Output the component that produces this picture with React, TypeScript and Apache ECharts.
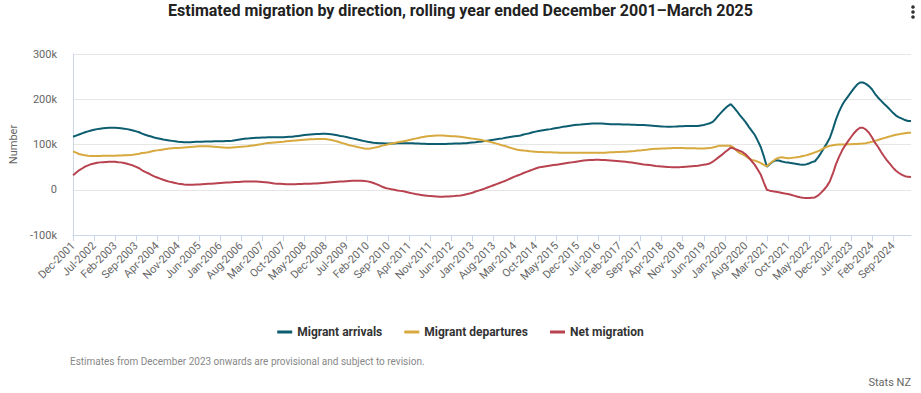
import React, { useEffect, useRef } from "react";
import * as echarts from "echarts";

const MONTHS = ["Jan", "Feb", "Mar", "Apr", "May", "Jun", "Jul", "Aug", "Sep", "Oct", "Nov", "Dec"];
const FIRST_YEAR = 2001;
const FIRST_MONTH = 11; // December
const MONTH_COUNT = 280; // Dec-2001 .. Mar-2025

const categories: string[] = [];
for (let k = 0; k < MONTH_COUNT; k++) {
  const m = (FIRST_MONTH + k) % 12;
  const y = FIRST_YEAR + Math.floor((FIRST_MONTH + k) / 12);
  categories.push(`${MONTHS[m]}-${y}`);
}

// values in thousands
const migrantArrivals = [117,
  119.5,122,124.5,127,129,131,132.5,134,135,136,136.5,137,
  137,137,136.5,136,135,134,132.5,131,129,127,124,121.5,
  119.5,117.5,115.5,114,112.5,111,110,109,108,107,106,105.5,
  105,105,105,105.5,106,106,106,106.5,106.5,106.5,107,107,
  107,107,107.5,108,108.5,109.5,110.5,111.5,112.5,113,114,114.5,
  115,115,115.5,115.5,116,116,116,116,116,116,116.5,117,
  117,118,119,120,121,121.5,122,122.5,123,123,123.5,123.5,
  123,122.5,121.5,120.5,119,118,116.5,115,113.5,112,110.5,109,
  107.5,106,105,104,103.5,103,102.5,102,102,102,102,102.5,
  102.5,103,103,103,102.5,102,102,101.5,101.5,101,101,101,
  101,101,101,101,101.5,101.5,102,102,102,102.5,103,104,
  104.5,105,106,106.5,107.5,108.5,109.5,110.5,111.5,112.5,113.5,115,
  116,117,118,119,120,122,123.5,125,127,128.5,130,131,
  132,133,134,135.5,136.5,137.5,139,140,141,142,143,143.5,
  144,145,145.5,146,146.5,146.5,146.5,146.5,146,145.5,145,145,
  144.5,144.5,144,144,144,143.5,143.5,143,143,143,142.5,142,
  141.5,141,140.5,140,139.5,139,139,139.5,140,140.5,140.5,141,
  141,141,141,141,142,143,145,147,150,157,165,172,
  179,185,189,182,174,165,157,149,139,130,121,108,
  94,74,51,57,62,65,64.5,62.5,61,60,59,58,
  57,56,55.5,56,58,61,63,71,81,92,103,115,
  134,155,172,186,197,206,215,224,232,237,237,234,
  229,222,212,204,197,190,184,177,170,164,160,157,
  154,152,152];

const migrantDepartures = [85,
  82,79,77.5,76,75,74.5,74.5,74.5,74.5,75,75,75,
  75,75,75.5,75.5,76,76.5,77,77.5,78.5,79.5,81,82,
  83,84.5,86,87,88,89,90,91,91.5,92,92.5,93,
  93.5,94,94.5,95,95.5,96,96,96,96,95.5,95,94.5,
  94,93.5,93,93,93.5,94,94.5,95,95.5,96,97,98,
  99,100,101,102.5,103.5,104,104.5,105,105.5,106,107,108,
  108.5,109,109.5,110,110.5,111,111.5,111.5,112,112,112,112,
  111,110,108.5,106.5,104.5,102.5,100.5,98.5,97,95.5,94,92.5,
  91,90.5,91,92.5,94,95.5,97.5,99,100.5,102,103.5,105,
  106,107,108.5,110,111.5,113,114.5,116,117,118,119,119.5,
  120,120,120,119.5,119,118.5,118,117.5,117,116,115,114,
  113,112,111,110,108.5,107,105.5,104,102,100,98,96.5,
  94,92,90,88.5,87.5,86.5,86,85,84.5,84,83.5,83.5,
  83,83,83,82.5,82.5,82,82,82,82,82,81.5,81.5,
  81.5,81.5,81.5,81.5,81.5,81.5,81.5,82,82,82.5,83,83,
  83.5,83.5,84,84,84.5,85,85.5,86.5,87,88,88.5,89.5,
  90,90.5,90.5,91,91,91.5,91.5,92,92,92,92,91.5,
  91.5,91.5,91.5,91,91,91,91.5,92,93.5,95,97,97.5,
  97.5,97.5,97,93,86,81,78,74,69,66,64.5,62,
  59,55,52,58,63,68,71,72,70.5,69.5,70,71,
  72,73,74.5,76,78,80,82.5,85,88,92,95,97,
  98.5,99.5,100,100,100,100.5,100.5,101,101,101.5,102,103,
  104.5,106,108,110,112,114,116,118,120,121.5,122.5,124,
  125,126,126];

const netMigration = [32,
  37.5,43,47,51,54,56.5,58,59.5,60.5,61,61.5,62,
  62,62,61,60.5,59,57.5,55.5,53.5,50.5,47.5,43,39.5,
  36.5,33,29.5,27,24.5,22,20,18,16.5,15,13.5,12.5,
  11.5,11,11,11,11.5,11.5,12,12.5,13,13.5,14,14.5,
  15,15.5,16,16,16.5,17,17,17.5,18,18,18,18,
  18,17.5,17,16.5,16,15,14,13.5,13,12.5,12,12,
  12,12,12.5,12.5,13,13,13.5,14,14,14.5,15,15.5,
  16,16.5,17,17.5,18,18.5,19,19.5,20,20,20,20,
  19.5,18.5,17,15,12.5,9.5,6.5,4,2.5,1,0,-1.5,
  -2.5,-3.5,-5,-6.5,-8,-9.5,-10.5,-11.5,-12.5,-13.5,-14,-14.5,
  -15,-15.5,-15.5,-15,-15,-14.5,-14,-13,-12.5,-11.5,-10,-8.5,
  -6.5,-4,-2,0,2.5,5,7.5,10,12.5,15,17.5,20,
  23,26,29,31.5,34,37,39.5,42,44.5,47,49,50.5,
  51.5,52.5,53.5,54.5,55.5,56.5,57.5,58.5,59.5,60.5,61.5,62.5,
  63.5,64.5,65,65.5,66,66.5,66.5,66,65.5,65,64.5,64,
  63.5,63,62.5,62,61,60,59,58,57,56,55.5,54.5,
  53.5,52.5,52,51.5,51,50.5,50,50,50,50,50.5,51,
  51.5,52,52.5,53,54,55.5,56.5,58,62,67,72,77,
  83,88,93,91,88.5,86,83,78,71,63,55,44,
  33,16,0,-2,-3.5,-4.5,-5.5,-7,-8.5,-9.5,-11,-13,
  -15,-16.5,-17.5,-18,-18,-17.5,-17,-13,-7,0,8,19,
  36,56,72,86,97,107,116,125,132,137,137,133,
  126,116,104,95,84,74,65,57,49,42,37,33,
  30,28.5,28];

const SERIES_NAMES = ["Migrant arrivals", "Migrant departures", "Net migration"];
const SERIES_COLORS = ["#0c5d6f", "#d8a93f", "#b8424f"];
const Y_MIN = -100;
const Y_MAX = 300;
const Y_STEP = 100;

const TITLE = "Estimated migration by direction, rolling year ended December 2001\u2013March 2025";
const FOOTNOTE = "Estimates from December 2023 onwards are provisional and subject to revision.";
const CREDIT = "Stats NZ";

const FONT = "Roboto, 'Noto Sans', sans-serif";

export default function App() {
  const ref = useRef<HTMLDivElement>(null);

  useEffect(() => {
    if (!ref.current) return;
    const chart = echarts.init(ref.current, null, { renderer: "svg" });
    const seriesData = [migrantArrivals, migrantDepartures, netMigration];
    chart.setOption({
      animation: false,
      textStyle: { fontFamily: FONT },
      title: {
        text: TITLE,
        left: "center",
        top: -3,
        textStyle: { fontSize: 16, fontWeight: "bold", color: "#222", fontFamily: FONT },
      },
      grid: { left: 70, right: 10, top: 54, bottom: 158, containLabel: false },
      legend: {
        data: SERIES_NAMES,
        top: 321,
        left: "center",
        icon: "rect",
        itemWidth: 15,
        itemHeight: 3,
        itemGap: 22,
        textStyle: { fontSize: 12, fontWeight: "bold", color: "#333", fontFamily: FONT },
      },
      xAxis: {
        type: "category",
        data: categories,
        boundaryGap: false,
        axisLine: { onZero: false, lineStyle: { color: "#ccd6eb", width: 1 } },
        axisTick: { interval: 6, length: 6, lineStyle: { color: "#ccd6eb" } },
        axisLabel: {
          interval: 6,
          rotate: 45,
          fontSize: 11,
          color: "#666",
          margin: 9,
          fontFamily: FONT,
        },
        splitLine: { show: false },
      },
      yAxis: {
        type: "value",
        min: Y_MIN,
        max: Y_MAX,
        interval: Y_STEP,
        name: "Number",
        nameLocation: "middle",
        nameRotate: 90,
        nameGap: 50,
        nameTextStyle: { fontSize: 11, color: "#666", fontFamily: FONT },
        axisLine: { show: true, lineStyle: { color: "#ccd6eb" } },
        axisTick: { show: false },
        axisLabel: {
          fontSize: 11,
          color: "#666",
          margin: 16,
          fontFamily: FONT,
          formatter: (v: number) => (v === 0 ? "0" : `${v}k`),
        },
        splitLine: { lineStyle: { color: "#e6e6e6" } },
      },
      series: SERIES_NAMES.map((name, i) => ({
        name,
        type: "line",
        data: seriesData[i],
        showSymbol: false,
        symbol: "none",
        lineStyle: { width: 2, color: SERIES_COLORS[i] },
        itemStyle: { color: SERIES_COLORS[i] },
        smooth: false,
      })),
      graphic: [
        {
          type: "text",
          left: 70,
          top: 356,
          style: { text: FOOTNOTE, fontSize: 10, fill: "#888", fontFamily: FONT },
        },
        {
          type: "text",
          right: 10,
          top: 377,
          style: { text: CREDIT, fontSize: 11, fill: "#666", fontFamily: FONT },
        },
        { type: "circle", shape: { cx: 913, cy: 7, r: 1.8 }, style: { fill: "#333" } },
        { type: "circle", shape: { cx: 913, cy: 12, r: 1.8 }, style: { fill: "#333" } },
        { type: "circle", shape: { cx: 913, cy: 17, r: 1.8 }, style: { fill: "#333" } },
      ],
    });
    return () => chart.dispose();
  }, []);

  return (
    <div
      ref={ref}
      style={{ position: "fixed", left: 0, top: 0, width: 921, height: 393, background: "#fff" }}
    />
  );
}
